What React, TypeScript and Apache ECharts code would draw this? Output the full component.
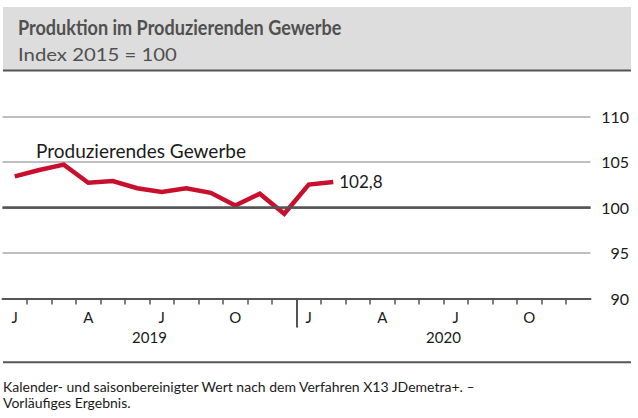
import React, { useEffect, useRef } from "react";
import * as echarts from "echarts";

const monthLabels = ["J","F","M","A","M","J","J","A","S","O","N","D","J","F","M","A","M","J","J","A","S","O","N","D"];
const monthBoundaries = ["0","1","2","3","4","5","6","7","8","9","10","11","12","13","14","15","16","17","18","19","20","21","22","23","24"];
const years = ["2019", "2020"];
const values: (number | null)[] = [103.4, 104.1, 104.7, 102.7, 102.9, 102.1, 101.7, 102.1, 101.6, 100.2, 101.5, 99.3, 102.5, 102.8, null, null, null, null, null, null, null, null, null, null];
const seriesName = "Produzierendes Gewerbe";
const title = "Produktion im Produzierenden Gewerbe";
const subtitle = "Index 2015 = 100";
const footnote1 = "Kalender- und saisonbereinigter Wert nach dem Verfahren X13 JDemetra+. –";
const footnote2 = "Vorläufiges Ergebnis.";

const FONT = "Lato, 'Noto Sans', sans-serif";

export default function App() {
  const ref = useRef<HTMLDivElement>(null);
  useEffect(() => {
    document.body.style.margin = "0";
    const chart = echarts.init(ref.current!, null, { renderer: "svg" });
    chart.setOption({
      animation: false,
      textStyle: { fontFamily: FONT },
      grid: { left: 2.5, right: 47.5, top: 116.3, bottom: 119.5 },
      graphic: [
        { type: "rect", shape: { x: 3, y: 7, width: 628, height: 63 }, style: { fill: "#dddddd" }, silent: true },
        { type: "line", shape: { x1: 3, y1: 70.5, x2: 631, y2: 70.5 }, style: { stroke: "#555555", lineWidth: 2 } },
        { type: "text", x: 18, y: 26.5, scaleX: 0.86, style: { text: title, font: `bold 21px ${FONT}`, fill: "#505050", verticalAlign: "middle" } },
        { type: "text", x: 18, y: 53.5, scaleX: 1.13, style: { text: subtitle, font: `18px ${FONT}`, fill: "#505050", verticalAlign: "middle" } },
        { type: "text", x: 36, y: 150, style: { text: seriesName, font: `19px ${FONT}`, fill: "#1a1a1a", verticalAlign: "middle" } },
        { type: "line", shape: { x1: 3, y1: 362.3, x2: 631, y2: 362.3 }, style: { stroke: "#555555", lineWidth: 2 } },
        { type: "text", x: 3, y: 386, style: { text: footnote1, font: `14px ${FONT}`, fill: "#1a1a1a", verticalAlign: "middle" } },
        { type: "text", x: 3, y: 402, style: { text: footnote2, font: `14px ${FONT}`, fill: "#1a1a1a", verticalAlign: "middle" } },
      ],
      xAxis: [
        {
          type: "category",
          position: "bottom",
          data: monthBoundaries,
          boundaryGap: false,
          axisLine: { lineStyle: { color: "#555555", width: 2 } },
          axisTick: { show: true, length: 6, interval: (i: number) => i > 0 && i < 24, lineStyle: { color: "#555555", width: 1.5 } },
          axisLabel: { show: false },
          splitLine: { show: false },
        },
        {
          type: "category",
          position: "bottom",
          data: monthBoundaries,
          boundaryGap: false,
          axisLine: { show: false },
          axisTick: { show: true, length: 29, interval: (i: number) => i === 12, lineStyle: { color: "#555555", width: 2 } },
          axisLabel: { show: false },
          splitLine: { show: false },
        },
        {
          type: "category",
          position: "bottom",
          data: monthLabels,
          boundaryGap: true,
          axisLine: { show: false },
          axisTick: { show: false },
          axisLabel: {
            interval: (i: number) => i % 3 === 0,
            color: "#1a1a1a",
            fontSize: 15,
            margin: 11,
            fontFamily: FONT,
          },
          splitLine: { show: false },
        },
        {
          type: "category",
          position: "bottom",
          data: years,
          boundaryGap: true,
          axisLine: { show: false },
          axisTick: { show: false },
          axisLabel: { color: "#1a1a1a", fontSize: 15, margin: 31, fontFamily: FONT },
          splitLine: { show: false },
        },
      ],
      yAxis: {
        type: "value",
        position: "right",
        min: 90,
        max: 110,
        interval: 5,
        axisLine: { show: false },
        axisTick: { show: false },
        axisLabel: { align: "right", margin: 38.5, color: "#1a1a1a", fontSize: 16, fontFamily: FONT },
        splitLine: { lineStyle: { color: ["#aaaaaa", "#aaaaaa", "#555555", "#aaaaaa", "#aaaaaa"], width: 1.5 } },
      },
      series: [
        {
          type: "line",
          name: seriesName,
          data: values,
          xAxisIndex: 2,
          symbol: "none",
          connectNulls: false,
          lineStyle: { color: "#c8102e", width: 4.5, join: "miter" },
          endLabel: {
            show: true,
            formatter: (p: any) => String(p.value).replace(".", ","),
            color: "#1a1a1a",
            fontSize: 17,
            fontFamily: FONT,
            distance: 6,
          },
          markLine: {
            silent: true,
            symbol: "none",
            label: { show: false },
            lineStyle: { color: "#555555", width: 2.5, type: "solid" },
            data: [{ yAxis: 100 }],
          },
          z: 3,
        },
      ],
    });
    return () => chart.dispose();
  }, []);
  return <div ref={ref} style={{ width: 638, height: 418 }} />;
}
